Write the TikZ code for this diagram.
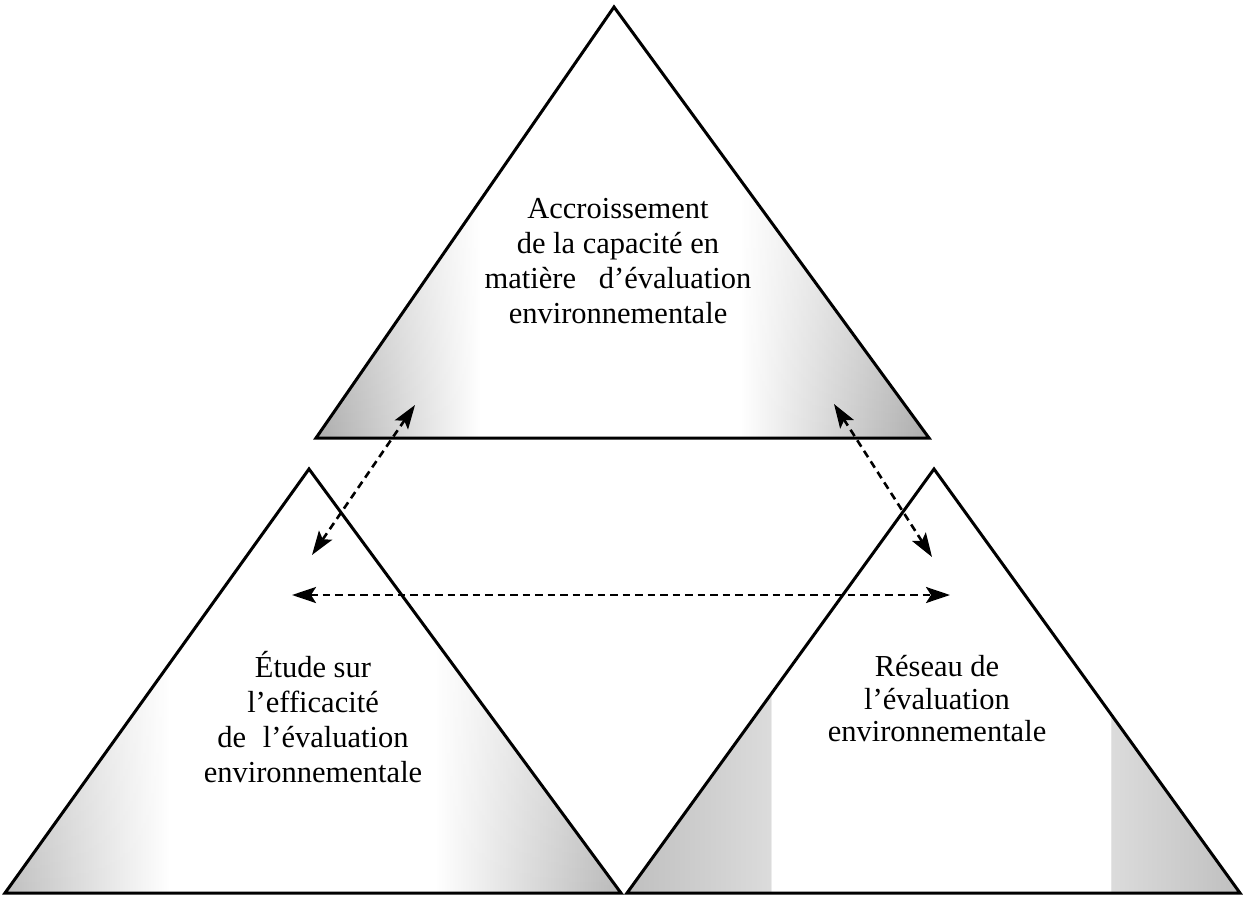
\documentclass[tikz,border=0pt]{standalone}
\usepackage{fontspec}
\setmainfont{Liberation Serif}
\usetikzlibrary{arrows.meta,fadings}
\pgfdeclarehorizontalshading{shtop}{100bp}{color(0bp)=(gray!65); color(25bp)=(gray!65); color(38.4bp)=(white); color(59.6bp)=(white); color(75bp)=(gray!65); color(100bp)=(gray!65)}
\pgfdeclarehorizontalshading{shleft}{100bp}{color(0bp)=(gray!50); color(25bp)=(gray!50); color(38.4bp)=(white); color(59.9bp)=(white); color(75bp)=(gray!55); color(100bp)=(gray!55)}
\pgfdeclarehorizontalshading{shright}{100bp}{color(0bp)=(gray!50); color(25bp)=(gray!50); color(36.7bp)=(gray!28); color(36.8bp)=(white); color(64.4bp)=(white); color(64.5bp)=(gray!28); color(75bp)=(gray!50); color(100bp)=(gray!50)}
\begin{document}
\begin{tikzpicture}[x=1pt,y=-1pt,
  tri/.style={line width=3pt, line join=miter},
  link/.style={dash pattern=on 7.5pt off 5pt, line width=2.6pt,
    {Stealth[length=24pt,width=16pt,inset=5pt]}-{Stealth[length=24pt,width=16pt,inset=5pt]}},
  lbl/.style={font=\fontsize{30.5}{35}\selectfont, align=center, inner sep=0pt}]
\useasboundingbox (0,0) rectangle (1244,899);
% triangle corners
\coordinate (tA) at (614,7);   \coordinate (tL) at (316,438); \coordinate (tR) at (929,438);
\coordinate (lA) at (309,469); \coordinate (lL) at (5,893);   \coordinate (lR) at (621,893);
\coordinate (rA) at (934,469); \coordinate (rL) at (627,893); \coordinate (rR) at (1240,893);
% shadings
\begin{scope}
  \clip (tA) -- (tL) -- (tR) -- cycle;
  \shade[shading=shtop] (316,7) rectangle (929,438);
  \fill[white, fill opacity=0.75, path fading=south] (316,7) rectangle (929,438);
\end{scope}
\begin{scope}
  \clip (lA) -- (lL) -- (lR) -- cycle;
  \shade[shading=shleft] (5,467) rectangle (621,893);
  \fill[white, fill opacity=0.6, path fading=south] (5,467) rectangle (621,893);
\end{scope}
\begin{scope}
  \clip (rA) -- (rL) -- (rR) -- cycle;
  \shade[shading=shright] (627,467) rectangle (1240,893);
\end{scope}
% outlines
\draw[tri] (tA) -- (tL) -- (tR) -- cycle;
\draw[tri] (lA) -- (lL) -- (lR) -- cycle;
\draw[tri] (rA) -- (rL) -- (rR) -- cycle;
% labels
\node[lbl] (top) at (618,261) {Accroissement\\de la capacité en\\matière\hspace{0.5em} d’évaluation\\environnementale};
\node[lbl] (left) at (313,717) {Étude sur\\l’efficacité\\de\hspace{0.3em} l’évaluation\\environnementale};
\node[lbl, font=\fontsize{30.5}{32.5}\selectfont] (right) at (937,699) {Réseau de\\l’évaluation\\environnementale};
% arrow end points
\coordinate (a1) at (415,405); \coordinate (a2) at (312,555);
\coordinate (b1) at (834,404); \coordinate (b2) at (932,557);
\coordinate (c1) at (292,595); \coordinate (c2) at (950,595);
\draw[link] (a1) -- (a2);
\draw[link] (b1) -- (b2);
\draw[link] (c1) -- (c2);
\end{tikzpicture}
\end{document}
